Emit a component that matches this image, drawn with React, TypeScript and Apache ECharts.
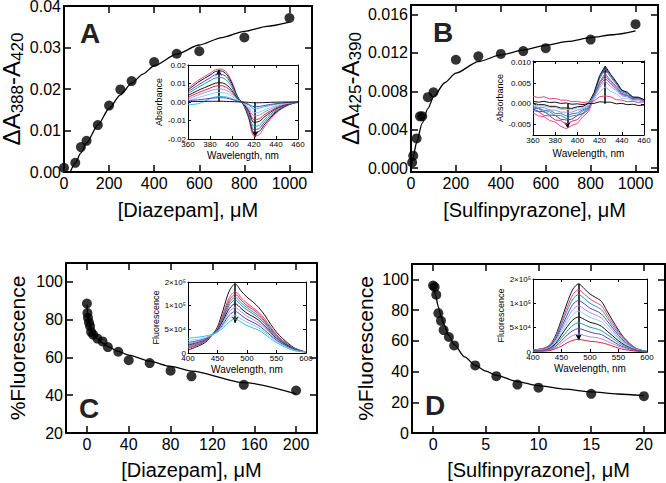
import React, { useEffect, useRef } from "react";
import * as echarts from "echarts";

const FONT = "'Liberation Sans', Arial, Helvetica, sans-serif";

// ---------- Panel A: diazepam, absorbance difference ----------
const diazepamConcA = [0, 50, 75, 100, 150, 200, 250, 300, 400, 500, 600, 800, 1000];
const deltaAbsA = [0.001, 0.0022, 0.006, 0.0075, 0.0113, 0.016, 0.0199, 0.0219, 0.0265, 0.0285, 0.0291, 0.0324, 0.0371];
const fitConcA = [28, 50, 75, 100, 150, 200, 250, 300, 350, 400, 500, 600, 700, 800, 900, 1000];
const fitDeltaAbsA = [0, 0.0022, 0.0046, 0.007, 0.0113, 0.0153, 0.0186, 0.0214, 0.0236, 0.0256, 0.0284, 0.0306, 0.0324, 0.0339, 0.0351, 0.0361];

// ---------- Panel B: sulfinpyrazone, absorbance difference ----------
const sulfinConcB = [5, 10, 25, 40, 50, 75, 100, 200, 300, 400, 500, 600, 800, 1000];
const deltaAbsB = [0.0006, 0.0013, 0.0031, 0.0054, 0.0054, 0.0074, 0.0079, 0.0113, 0.01165, 0.0119, 0.0122, 0.0125, 0.0134, 0.015];
const fitConcB = [0, 10, 25, 50, 75, 100, 150, 200, 300, 400, 500, 600, 700, 800, 900, 1000];
const fitDeltaAbsB = [0, 0.0012, 0.0027, 0.0047, 0.0062, 0.0074, 0.0089, 0.0099, 0.0111, 0.0118, 0.0123, 0.0128, 0.0132, 0.0136, 0.0139, 0.0143];

// ---------- Panel C: diazepam, fluorescence ----------
const diazepamConcC = [0, 0.5, 1, 2, 3, 4, 6, 10, 15, 20, 30, 40, 60, 80, 100, 150, 200];
const fluorC = [88.5, 83.5, 81, 78.5, 76.5, 73.5, 72, 70, 68.5, 65.5, 63, 58.5, 57, 53, 50, 45.5, 42.5];
const fitConcC = [0, 0.5, 1, 2, 3, 5, 7.5, 10, 15, 20, 30, 40, 60, 80, 100, 150, 200];
const fitFluorC = [88, 84.5, 81.5, 78.5, 76, 73, 71.3, 69.8, 67.6, 65.8, 63.2, 61.2, 58, 55.3, 52.8, 46.7, 40.7];

// ---------- Panel D: sulfinpyrazone, fluorescence ----------
const sulfinConcD = [0, 0.15, 0.3, 0.5, 0.75, 1, 1.5, 2, 4, 6, 8, 10, 15, 20];
const fluorD = [96, 95, 90, 78, 73, 67, 62.5, 57, 44, 37, 31.5, 29.5, 25.5, 24];
const fitConcD = [0, 0.25, 0.5, 0.75, 1, 1.5, 2, 3, 4, 5, 6, 8, 10, 12.5, 15, 17.5, 20];
const fitFluorD = [97, 89, 82, 76, 71, 63.5, 57.5, 49.5, 44, 40.3, 37.5, 33.5, 30.8, 28.5, 26.8, 25.4, 24.3];

// ---------- Inset A: difference spectra ----------
const wavelengthsA = [360, 370, 380, 385, 390, 395, 400, 405, 410, 415, 420, 425, 430, 440, 450, 460];
const spectraA = [
  [0.0075, 0.012, 0.0155, 0.0175, 0.0178, 0.016, 0.0108, 0.003, -0.001, -0.0085, -0.0185, -0.0175, -0.013, -0.006, -0.002, 0],
  [0.0065, 0.011, 0.0145, 0.0165, 0.0168, 0.015, 0.01, 0.0028, -0.001, -0.0078, -0.0165, -0.0158, -0.0118, -0.0055, -0.0018, 0],
  [0.0055, 0.0095, 0.013, 0.0148, 0.015, 0.0135, 0.009, 0.0025, -0.0008, -0.007, -0.015, -0.0142, -0.0105, -0.005, -0.0016, 0],
  [0.0045, 0.0082, 0.0115, 0.013, 0.0132, 0.0118, 0.0078, 0.0022, -0.0008, -0.0062, -0.0132, -0.0125, -0.0092, -0.0044, -0.0014, 0],
  [0.0035, 0.0065, 0.009, 0.0102, 0.0104, 0.0093, 0.0062, 0.0018, -0.0006, -0.005, -0.011, -0.0104, -0.0078, -0.0037, -0.0012, 0],
  [0.0025, 0.0052, 0.0075, 0.0086, 0.0088, 0.0079, 0.0053, 0.0015, -0.0005, -0.0042, -0.0095, -0.009, -0.0066, -0.0032, -0.001, 0],
  [0.0015, 0.004, 0.006, 0.0068, 0.007, 0.0063, 0.0042, 0.0012, -0.0004, -0.0034, -0.0075, -0.0071, -0.0053, -0.0025, -0.0008, 0],
  [0.0005, 0.0025, 0.0042, 0.005, 0.0052, 0.0047, 0.0031, 0.0009, -0.0003, -0.0026, -0.0058, -0.0055, -0.0041, -0.0019, -0.0006, 0],
  [-0.0015, -0.0008, 0.0018, 0.0028, 0.003, 0.0027, 0.0018, 0.0005, -0.0002, -0.0016, -0.0035, -0.0033, -0.0025, -0.0012, -0.0004, -0.0005],
  [0.0008, 0.0012, 0.002, 0.0022, 0.0023, 0.0021, 0.0014, 0.0004, -0.0002, -0.0012, -0.0025, -0.0024, -0.0018, -0.0009, -0.0003, 0],
  [0.0002, 0.0003, 0.0004, 0.0004, 0.0004, 0.0003, 0.0002, 0.0001, 0, -0.0002, -0.0004, -0.0004, -0.0003, -0.0001, 0, 0],
];
const arrowsA = [[388, 0, 0.0175], [421, 0, -0.019]];

// ---------- Inset B: difference spectra ----------
const wavelengthsB = [360, 365, 370, 375, 380, 385, 390, 395, 400, 405, 410, 415, 420, 425, 430, 435, 440, 445, 450, 455, 460];
const spectraB = [
  [-0.0022, -0.0029, -0.0031, -0.004, -0.0044, -0.0054, -0.006, -0.0052, -0.0047, -0.0031, -0.0019, 0.0014, 0.0044, 0.0062, 0.0048, 0.0036, 0.0022, 0.0019, 0.001, 0.0011, 0.0006],
  [-0.0016, -0.0019, -0.0028, -0.0029, -0.0039, -0.004, -0.0049, -0.0042, -0.0038, -0.0024, -0.0015, 0.002, 0.0052, 0.0073, 0.0056, 0.0042, 0.0025, 0.0021, 0.0012, 0.0013, 0.0008],
  [-0.0012, -0.0018, -0.0019, -0.0027, -0.0028, -0.0037, -0.0039, -0.0037, -0.0028, -0.0023, -0.001, 0.0024, 0.0064, 0.0088, 0.0068, 0.005, 0.0031, 0.0026, 0.0016, 0.0015, 0.001],
  [-0.001, -0.0012, -0.002, -0.0019, -0.0028, -0.0028, -0.0035, -0.0029, -0.0027, -0.0017, -0.0011, 0.0022, 0.006, 0.0083, 0.0064, 0.0047, 0.0029, 0.0024, 0.0014, 0.0014, 0.0009],
  [-0.0008, -0.001, -0.0016, -0.0015, -0.0023, -0.0023, -0.0029, -0.0024, -0.0022, -0.0014, -0.0009, 0.0019, 0.0049, 0.0068, 0.0052, 0.0039, 0.0024, 0.002, 0.0012, 0.0012, 0.0007],
  [-0.0005, -0.0009, -0.0009, -0.0015, -0.0015, -0.002, -0.002, -0.002, -0.0015, -0.0012, -0.0005, 0.0016, 0.0039, 0.0055, 0.0042, 0.0032, 0.0019, 0.0017, 0.0009, 0.001, 0.0006],
  [-0.0002, -0.0005, -0.0005, -0.0009, -0.0009, -0.0013, -0.0014, -0.0014, -0.001, -0.0009, -0.0003, 0.0012, 0.0028, 0.0041, 0.003, 0.0024, 0.0013, 0.0013, 0.0007, 0.0007, 0.0004],
  [0.0002, -0.0002, -0.0002, -0.0006, -0.0006, -0.001, -0.001, -0.0011, -0.0007, -0.0006, 0.0001, 0.0027, 0.0068, 0.0091, 0.0071, 0.0053, 0.0033, 0.0028, 0.0016, 0.0016, 0.001],
  [0.0006, 0.0004, 0.0006, 0.0003, 0.0004, 0.0001, 0.0002, -0.0001, 0, -0.0002, 0.0001, 0.0001, 0.0005, 0.0004, 0.0004, 0, 0.0001, -0.0002, -0.0001, -0.0004, -0.0003],
  [0.0018, 0.0015, 0.0017, 0.0012, 0.0013, 0.0009, 0.0009, 0.0005, 0.0006, 0.0003, 0.0005, 0.0007, 0.0017, 0.0019, 0.0017, 0.001, 0.0009, 0.0005, 0.0006, 0.0003, 0.0005],
];
const arrowsB = [[391, 0, -0.0058], [425, 0, 0.0088]];

// ---------- Inset C / D: emission spectra ----------
const wavelengthsF = [400, 420, 430, 440, 450, 460, 470, 480, 490, 500, 510, 520, 530, 540, 550, 560, 580, 600];
const spectraC = [
  [6e3, 16e3, 23e3, 37e3, 55e3, 93e3, 131e3, 146e3, 131e3, 118e3, 108e3, 96e3, 80e3, 61e3, 44e3, 31e3, 11e3, 2e3],
  [9e3, 18e3, 25e3, 37e3, 52e3, 84e3, 117e3, 130e3, 117e3, 105e3, 96e3, 86e3, 72e3, 55e3, 39e3, 27e3, 10e3, 2e3],
  [11e3, 19e3, 26e3, 37e3, 51e3, 80e3, 111e3, 124e3, 112e3, 100e3, 92e3, 82e3, 68e3, 52e3, 37e3, 26e3, 9e3, 2e3],
  [13e3, 21e3, 27e3, 38e3, 50e3, 77e3, 106e3, 118e3, 106e3, 96e3, 87e3, 78e3, 65e3, 50e3, 36e3, 25e3, 9e3, 2e3],
  [15e3, 22e3, 28e3, 38e3, 49e3, 74e3, 101e3, 112e3, 101e3, 91e3, 83e3, 74e3, 62e3, 47e3, 34e3, 24e3, 8e3, 2e3],
  [17e3, 24e3, 29e3, 38e3, 48e3, 70e3, 94e3, 104e3, 94e3, 84e3, 77e3, 69e3, 57e3, 44e3, 31e3, 22e3, 8e3, 2e3],
  [19e3, 25e3, 30e3, 38e3, 47e3, 66e3, 87e3, 96e3, 87e3, 78e3, 71e3, 63e3, 53e3, 40e3, 29e3, 20e3, 7e3, 2e3],
  [22e3, 27e3, 31e3, 38e3, 46e3, 62e3, 80e3, 88e3, 80e3, 71e3, 65e3, 58e3, 48e3, 37e3, 27e3, 19e3, 7e3, 2e3],
  [26e3, 30e3, 33e3, 38e3, 45e3, 58e3, 73e3, 80e3, 72e3, 65e3, 59e3, 53e3, 44e3, 34e3, 24e3, 17e3, 6e3, 2e3],
  [31e3, 34e3, 36e3, 39e3, 44e3, 54e3, 66e3, 72e3, 65e3, 58e3, 53e3, 48e3, 40e3, 30e3, 22e3, 15e3, 5e3, 2e3],
];
const arrowsC = [[480, 147e3, 64e3]];
const spectraD = [
  [4e3, 8e3, 15e3, 35e3, 67e3, 101e3, 129e3, 140e3, 130e3, 119e3, 112e3, 104e3, 84e3, 64e3, 45e3, 29e3, 8e3, 1e3],
  [4e3, 8e3, 14e3, 32e3, 61e3, 92e3, 118e3, 128e3, 119e3, 109e3, 102e3, 95e3, 77e3, 59e3, 41e3, 27e3, 8e3, 1e3],
  [4e3, 7e3, 13e3, 30e3, 57e3, 85e3, 109e3, 118e3, 110e3, 100e3, 94e3, 87e3, 71e3, 54e3, 38e3, 25e3, 7e3, 1e3],
  [3e3, 6e3, 12e3, 27e3, 51e3, 76e3, 98e3, 106e3, 99e3, 90e3, 85e3, 78e3, 64e3, 49e3, 34e3, 22e3, 6e3, 1e3],
  [3e3, 6e3, 10e3, 24e3, 46e3, 68e3, 87e3, 95e3, 88e3, 81e3, 76e3, 70e3, 57e3, 44e3, 30e3, 20e3, 6e3, 1e3],
  [3e3, 5e3, 9e3, 21e3, 40e3, 60e3, 77e3, 84e3, 78e3, 71e3, 67e3, 62e3, 50e3, 39e3, 27e3, 18e3, 5e3, 1e3],
  [2e3, 4e3, 8e3, 18e3, 35e3, 52e3, 66e3, 72e3, 67e3, 61e3, 58e3, 53e3, 43e3, 33e3, 23e3, 15e3, 4e3, 1e3],
  [2e3, 4e3, 7e3, 15e3, 29e3, 43e3, 55e3, 60e3, 56e3, 51e3, 48e3, 44e3, 36e3, 28e3, 19e3, 13e3, 4e3, 1e3],
  [2e3, 3e3, 5e3, 12e3, 23e3, 35e3, 44e3, 48e3, 45e3, 41e3, 38e3, 36e3, 29e3, 22e3, 15e3, 10e3, 3e3, 0],
  [1e3, 2e3, 4e3, 9e3, 18e3, 27e3, 34e3, 37e3, 34e3, 31e3, 30e3, 27e3, 22e3, 17e3, 12e3, 8e3, 2e3, 0],
  [1e3, 2e3, 3e3, 7e3, 12e3, 19e3, 24e3, 26e3, 24e3, 22e3, 21e3, 19e3, 16e3, 12e3, 8e3, 5e3, 2e3, 0],
];
const arrowsD = [[480, 140e3, 24e3]];

// ---------- tick values / labels ----------
const ticksAB_X = [0, 200, 400, 600, 800, 1000];
const ticksA_Y = [0, 0.01, 0.02, 0.03, 0.04];
const ticksB_Y = [0, 0.004, 0.008, 0.012, 0.016];
const ticksC_X = [0, 40, 80, 120, 160, 200];
const ticksC_Y = [20, 40, 60, 80, 100];
const ticksD_X = [0, 5, 10, 15, 20];
const ticksD_Y = [0, 20, 40, 60, 80, 100];
const ticksInsetAB_X = [360, 380, 400, 420, 440, 460];
const ticksInsetA_Y = [-0.02, -0.01, 0, 0.01, 0.02];
const ticksInsetB_Y = [-0.005, 0, 0.005, 0.01];
const ticksInsetCD_X = [400, 450, 500, 550, 600];
const fluorTickValues = [0, 50000, 100000, 150000];
const fluorTickLabels = ["0", "5×10⁴", "1×10⁵", "2×10⁵"];
const panelLetters = ["A", "B", "C", "D"];

// ---------- styles ----------
const PINK = "#f2417e", RED = "#e0203f", BLK = "#111111", TEAL = "#1b9e96", PURP = "#5a3ec8",
  LAV = "#a58ee6", LBLUE = "#86cdf0", CYAN = "#2fc0d6", MAG = "#c9399a", BLUE = "#4a70d0";
const colorsA = [PINK, BLK, PURP, TEAL, BLK, RED, LAV, LBLUE, CYAN, PURP, BLK];
const colorsB = [PINK, MAG, PURP, TEAL, BLUE, LAV, LBLUE, BLK, BLK, PINK];
const colorsC = [BLK, PINK, RED, TEAL, BLUE, BLK, LAV, PURP, LBLUE, CYAN];
const colorsD = [BLK, PINK, TEAL, PURP, LAV, LBLUE, BLK, TEAL, PURP, LAV, RED];

const zip = (xs: number[], ys: number[]) => xs.map((x, i) => [x, ys[i]]);

interface AxSpec {
  min: number; max: number; custom: number[];
  fmt?: (v: number) => string; name?: string; nameGap?: number; nameStyle?: any;
}

function axisPair(grid: number, dim: "x" | "y", s: AxSpec, main: boolean) {
  const lw = main ? 2 : 1;
  const mk = (primary: boolean) => ({
    type: "value",
    gridIndex: grid,
    position: dim === "x" ? (primary ? "bottom" : "top") : primary ? "left" : "right",
    min: s.min,
    max: s.max,
    axisLine: { show: true, onZero: false, lineStyle: { color: "#000", width: lw } },
    axisTick: {
      show: true, inside: true, length: main ? 7 : 3, customValues: s.custom,
      lineStyle: { color: "#000", width: main ? 1.5 : 1 },
    },
    axisLabel: {
      show: primary, color: "#000", fontFamily: FONT, fontSize: main ? 16 : 8,
      lineHeight: main ? 14 : 8,
      margin: main ? (dim === "x" ? 4 : 3) : dim === "x" ? 1 : 2, customValues: s.custom,
      formatter: s.fmt ? s.fmt : (v: number) => String(v),
    },
    splitLine: { show: false },
    name: primary && s.name ? s.name : "",
    nameLocation: "middle",
    nameGap: s.nameGap,
    nameTextStyle: s.nameStyle,
  });
  return [mk(true), mk(false)];
}

const mainXName = { fontFamily: FONT, fontSize: 20, color: "#000" };
const mainYName = { fontFamily: FONT, fontSize: 21, color: "#000" };
const richYName = {
  fontFamily: FONT,
  color: "#000",
  rich: {
    m: { fontFamily: FONT, fontSize: 24, lineHeight: 26, verticalAlign: "top", color: "#000" },
    s: { fontFamily: FONT, fontSize: 17, lineHeight: 17, padding: [14, 0, 0, 0], verticalAlign: "bottom", color: "#000" },
  },
};
const insetName = { fontFamily: FONT, fontSize: 9, color: "#000" };
const insetXName = { fontFamily: FONT, fontSize: 10, color: "#000" };
const fluorFmt = (v: number) => {
  const i = fluorTickValues.indexOf(v);
  return i >= 0 ? fluorTickLabels[i] : "";
};

function buildOption() {
  const grids = [
    { left: 64, top: 6, width: 248, height: 166 },
    { left: 411, top: 5, width: 247, height: 167 },
    { left: 66, top: 263, width: 251, height: 170 },
    { left: 412, top: 264, width: 253, height: 169 },
    { left: 188, top: 65, width: 110, height: 74 },
    { left: 533, top: 61, width: 111, height: 74 },
    { left: 188, top: 282, width: 118, height: 71 },
    { left: 533, top: 279, width: 114, height: 73 },
  ].map((g) => ({ ...g, outerBoundsMode: "none", containLabel: false }));

  const xs: any[] = [];
  const ys: any[] = [];
  const add = (g: number, x: AxSpec, y: AxSpec, main: boolean) => {
    xs.push(...axisPair(g, "x", x, main));
    ys.push(...axisPair(g, "y", y, main));
  };
  // main panels
  add(0, { min: 0, max: 1100, custom: ticksAB_X, name: "[Diazepam], μM", nameGap: 28, nameStyle: mainXName },
    { min: 0, max: 0.04, custom: ticksA_Y, fmt: (v) => v.toFixed(2), name: "{m|ΔA}{s|388}{m|-A}{s|420}", nameGap: 26, nameStyle: richYName }, true);
  add(1, { min: 0, max: 1100, custom: ticksAB_X, name: "[Sulfinpyrazone], μM", nameGap: 28, nameStyle: mainXName },
    { min: -0.0004, max: 0.017, custom: ticksB_Y, fmt: (v) => v.toFixed(3), name: "{m|ΔA}{s|425}{m|-A}{s|390}", nameGap: 41, nameStyle: richYName }, true);
  add(2, { min: -20, max: 220, custom: ticksC_X, name: "[Diazepam], μM", nameGap: 27, nameStyle: mainXName },
    { min: 20, max: 110, custom: ticksC_Y, name: "%Fluorescence", nameGap: 38, nameStyle: mainYName }, true);
  add(3, { min: -2, max: 22, custom: ticksD_X, name: "[Sulfinpyrazone], μM", nameGap: 27, nameStyle: mainXName },
    { min: 0, max: 110, custom: ticksD_Y, name: "%Fluorescence", nameGap: 36, nameStyle: mainYName }, true);
  // insets
  add(4, { min: 360, max: 460, custom: ticksInsetAB_X, name: "Wavelength, nm", nameGap: 11, nameStyle: insetXName },
    { min: -0.02, max: 0.02, custom: ticksInsetA_Y, fmt: (v) => v.toFixed(2), name: "Absorbance", nameGap: 21, nameStyle: insetName }, false);
  add(5, { min: 360, max: 460, custom: ticksInsetAB_X, name: "Wavelength, nm", nameGap: 13, nameStyle: insetXName },
    { min: -0.0075, max: 0.0103, custom: ticksInsetB_Y, fmt: (v) => v.toFixed(3), name: "Absorbance", nameGap: 24, nameStyle: insetName }, false);
  add(6, { min: 400, max: 600, custom: ticksInsetCD_X, name: "Wavelength, nm", nameGap: 11, nameStyle: insetXName },
    { min: 0, max: 150000, custom: fluorTickValues, fmt: fluorFmt, name: "Fluorescence", nameGap: 22, nameStyle: insetName }, false);
  add(7, { min: 400, max: 600, custom: ticksInsetCD_X, name: "Wavelength, nm", nameGap: 11, nameStyle: insetXName },
    { min: 0, max: 150000, custom: fluorTickValues, fmt: fluorFmt, name: "Fluorescence", nameGap: 22, nameStyle: insetName }, false);

  const series: any[] = [];
  const mainPanel = (g: number, px: number[], py: number[], fx: number[], fy: number[]) => {
    series.push({
      type: "line", xAxisIndex: 2 * g, yAxisIndex: 2 * g, data: zip(fx, fy), showSymbol: false, symbol: "none",
      smooth: 0.25, smoothMonotone: "x", lineStyle: { color: "#000", width: 1.3 }, z: 2, silent: true,
    });
    series.push({
      type: "scatter", xAxisIndex: 2 * g, yAxisIndex: 2 * g, data: zip(px, py), symbol: "circle", symbolSize: 10,
      itemStyle: { color: "#000" }, z: 3, silent: true,
    });
  };
  mainPanel(0, diazepamConcA, deltaAbsA, fitConcA, fitDeltaAbsA);
  mainPanel(1, sulfinConcB, deltaAbsB, fitConcB, fitDeltaAbsB);
  mainPanel(2, diazepamConcC, fluorC, fitConcC, fitFluorC);
  mainPanel(3, sulfinConcD, fluorD, fitConcD, fitFluorD);

  const inset = (g: number, w: number[], spectra: number[][], colors: string[], arrows: number[][], smooth: number | boolean) => {
    spectra.forEach((vals, i) => {
      const s: any = {
        type: "line", xAxisIndex: 2 * g, yAxisIndex: 2 * g, data: zip(w, vals), showSymbol: false, symbol: "none",
        smooth, lineStyle: { color: colors[i % colors.length], width: 1 }, z: 5, silent: true,
      };
      if (i === spectra.length - 1) {
        s.markLine = {
          silent: true, symbol: ["none", "arrow"], symbolSize: [5, 6], label: { show: false },
          lineStyle: { color: "#000", width: 1.5, type: "solid" },
          data: arrows.map(([x, y0, y1]) => [{ coord: [x, y0] }, { coord: [x, y1] }]),
        };
      }
      series.push(s);
    });
  };
  inset(4, wavelengthsA, spectraA, colorsA, arrowsA, 0.3);
  inset(5, wavelengthsB, spectraB, colorsB, arrowsB, false);
  inset(6, wavelengthsF, spectraC, colorsC, arrowsC, 0.3);
  inset(7, wavelengthsF, spectraD, colorsD, arrowsD, 0.3);

  const letterPos = [[90, 33], [443, 32], [89, 408], [435, 405]];
  const graphic = panelLetters.map((t, i) => ({
    type: "text", x: letterPos[i][0], y: letterPos[i][1], z: 10,
    style: { text: t, fontFamily: FONT, fontSize: 28, fontWeight: "bold", fill: "#222", align: "center", verticalAlign: "middle" },
  }));

  return {
    animation: false,
    backgroundColor: "#fff",
    textStyle: { fontFamily: FONT },
    grid: grids,
    xAxis: xs,
    yAxis: ys,
    series,
    graphic,
  };
}

export default function App() {
  const ref = useRef<HTMLDivElement>(null);
  useEffect(() => {
    const chart = echarts.init(ref.current!, null, { renderer: "svg" });
    chart.setOption(buildOption() as any);
    return () => chart.dispose();
  }, []);
  return (
    <div
      ref={ref}
      style={{ position: "fixed", left: 0, top: 0, width: 666, height: 483, background: "#fff" }}
    />
  );
}
